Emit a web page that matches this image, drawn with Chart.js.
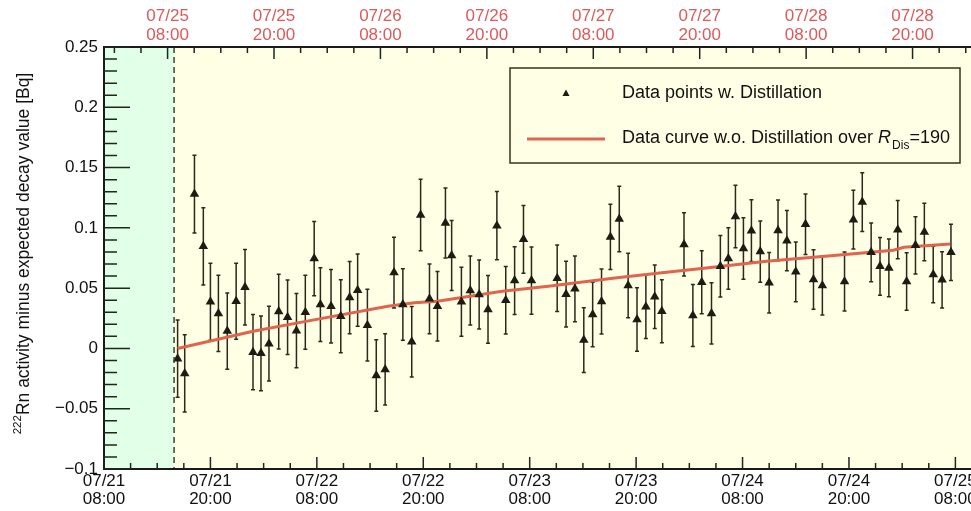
<!DOCTYPE html>
<html>
<head>
<meta charset="utf-8">
<script src="https://cdn.jsdelivr.net/npm/chart.js@4.4.0/dist/chart.umd.min.js"></script>
<style>
  html, body { margin: 0; padding: 0; background: #fff; overflow: hidden; }
  #wrap { width: 1000px; height: 511px; position: relative; }
</style>
</head>
<body>
<div id="wrap"><canvas id="myChart"></canvas></div>
<script>
'use strict';

// hours since 07/21 08:00
let pointHours = [8.3, 9.1, 10.2, 11.2, 12.0, 12.9, 13.9, 14.9, 15.9, 16.8,
  17.7, 18.6, 19.7, 20.7, 21.7, 22.7, 23.7, 24.4, 25.6, 26.7,
  27.7, 28.6, 29.7, 30.7, 31.7, 32.7, 33.7, 34.7, 35.7, 36.7,
  37.6, 38.5, 39.2, 40.3, 41.3, 42.3, 43.3, 44.3, 45.3, 46.3,
  47.3, 48.2, 51.1, 52.1, 53.1, 54.1, 55.1, 56.1, 57.1, 58.1,
  59.1, 60.1, 61.1, 62.1, 62.9, 65.4, 66.4, 67.4, 68.5, 69.5,
  70.4, 71.2, 72.1, 73.0, 74.0, 75.0, 76.0, 77.0, 78.0, 79.1,
  80.0, 81.0, 83.5, 84.5, 85.5, 86.5, 87.5, 88.5, 89.5, 90.5,
  91.5, 92.5, 93.5, 94.5, 95.5];
let pointValues = [-0.0085, -0.0207, 0.128, 0.0847, 0.0387, 0.029, 0.0144, 0.0392, 0.0507, -0.0031,
  -0.0041, 0.0039, 0.0306, 0.0259, 0.0147, 0.03, 0.0745, 0.0364, 0.035, 0.0267,
  0.0422, 0.0483, 0.0193, -0.0224, -0.0174, 0.0629, 0.0364, 0.0055, 0.1107, 0.0411,
  0.035, 0.1041, 0.077, 0.0387, 0.048, 0.0447, 0.0323, 0.1018, 0.04, 0.0563,
  0.0905, 0.0563, 0.0582, 0.045, 0.0494, 0.0069, 0.0281, 0.0389, 0.0925, 0.1074,
  0.0522, 0.024, 0.0345, 0.0428, 0.0309, 0.0863, 0.0273, 0.0549, 0.029, 0.0681,
  0.0745, 0.1095, 0.0828, 0.0977, 0.0803, 0.0544, 0.0979, 0.0894, 0.0635, 0.1029,
  0.0571, 0.0522, 0.0555, 0.1068, 0.1214, 0.0797, 0.0681, 0.0668, 0.0985, 0.0555,
  0.0855, 0.0966, 0.0613, 0.0569, 0.0797];
let pointErrors = [0.032, 0.032, 0.0323, 0.032, 0.032, 0.0316, 0.0316, 0.0315, 0.0313, 0.0312,
  0.0309, 0.031, 0.031, 0.0309, 0.0308, 0.0306, 0.0308, 0.0306, 0.0304, 0.0302,
  0.03, 0.03, 0.0298, 0.0296, 0.0296, 0.0294, 0.0296, 0.0292, 0.0296, 0.029,
  0.0288, 0.029, 0.029, 0.0286, 0.0286, 0.0286, 0.0281, 0.0283, 0.028, 0.0281,
  0.0281, 0.0279, 0.0275, 0.0273, 0.0273, 0.0269, 0.0267, 0.0269, 0.0271, 0.0272,
  0.0267, 0.0263, 0.0263, 0.0263, 0.0261, 0.0262, 0.0257, 0.0261, 0.0254, 0.0255,
  0.0255, 0.0259, 0.0255, 0.0257, 0.0254, 0.0251, 0.0252, 0.025, 0.0248, 0.0251,
  0.0247, 0.0244, 0.0244, 0.0244, 0.0244, 0.0243, 0.024, 0.024, 0.0242, 0.0238,
  0.0238, 0.0238, 0.0234, 0.0233, 0.0233];

// curve without distillation
let curveHours = [8.3, 16.8, 22.3, 32.0, 35.0, 37.6, 44.9, 50.1, 57.6, 62.9, 67.4, 74.7, 82.3, 89.0, 90.2, 95.4];
let curveValues = [0.0, 0.0143, 0.0218, 0.035, 0.0378, 0.0392, 0.0474, 0.0516, 0.0585, 0.0627, 0.0662, 0.0723, 0.077, 0.0814, 0.0839, 0.0867];

let distillStart = 7.9;
let xMin = 0;
let xMax = 99;
let topOffset = 88.83;

let bottomTickHours = [0, 12, 24, 36, 48, 60, 72, 84, 96];
let bottomTickLabels = [['07/21', '08:00'], ['07/21', '20:00'], ['07/22', '08:00'], ['07/22', '20:00'],
  ['07/23', '08:00'], ['07/23', '20:00'], ['07/24', '08:00'], ['07/24', '20:00'], ['07/25', '08:00']];
let topTickHours = [96, 108, 120, 132, 144, 156, 168, 180];
let topTickLabels = [['07/25', '08:00'], ['07/25', '20:00'], ['07/26', '08:00'], ['07/26', '20:00'],
  ['07/27', '08:00'], ['07/27', '20:00'], ['07/28', '08:00'], ['07/28', '20:00']];
let yTickValues = [-0.1, -0.05, 0, 0.05, 0.1, 0.15, 0.2, 0.25];
let yTickLabels = ['\u22120.1', '\u22120.05', '0', '0.05', '0.1', '0.15', '0.2', '0.25'];

let font = '"Liberation Sans", Arial, sans-serif';
let inkColor = '#1c1c10';

let decorPlugin = {
  id: 'decor',
  beforeDatasetsDraw(chart) {
    let c = chart.ctx;
    let a = chart.chartArea;
    let xs = chart.scales.x;
    let ys = chart.scales.y;
    c.save();
    c.fillStyle = '#ffffe6';
    c.fillRect(a.left, a.top, a.right - a.left, a.bottom - a.top);
    let xd = xs.getPixelForValue(distillStart);
    c.fillStyle = '#e2ffe7';
    c.fillRect(a.left, a.top, xd - a.left, a.bottom - a.top);
    // error bars
    c.strokeStyle = '#2a2a1a';
    c.lineWidth = 1.5;
    for (let i = 0; i < pointHours.length; i++) {
      let px = xs.getPixelForValue(pointHours[i]);
      let y1 = ys.getPixelForValue(pointValues[i] + pointErrors[i]);
      let y2 = ys.getPixelForValue(pointValues[i] - pointErrors[i]);
      c.beginPath();
      c.moveTo(px, y1);
      c.lineTo(px, y2);
      c.moveTo(px - 2, y1);
      c.lineTo(px + 2, y1);
      c.moveTo(px - 2, y2);
      c.lineTo(px + 2, y2);
      c.stroke();
    }
    c.restore();
  },
  afterDatasetsDraw(chart) {
    let c = chart.ctx;
    let a = chart.chartArea;
    let xs = chart.scales.x;
    let xt = chart.scales.x2;
    let ys = chart.scales.y;
    c.save();
    // dashed line at distillation start
    let xd = xs.getPixelForValue(distillStart);
    c.strokeStyle = '#2f4a2f';
    c.lineWidth = 1.5;
    c.setLineDash([6, 4]);
    c.beginPath();
    c.moveTo(xd, a.top);
    c.lineTo(xd, a.bottom);
    c.stroke();
    c.setLineDash([]);

    // frame
    c.strokeStyle = '#1a1a1a';
    c.lineWidth = 2;
    c.beginPath();
    c.moveTo(a.right, a.top);
    c.lineTo(a.left, a.top);
    c.lineTo(a.left, a.bottom);
    c.lineTo(a.right, a.bottom);
    c.stroke();

    // ticks
    c.lineWidth = 1.5;
    c.strokeStyle = '#1e261e';
    c.beginPath();
    for (let h = xMin; h <= xMax; h += 3) {
      let px = xs.getPixelForValue(h);
      let len = h % 12 === 0 ? 12 : 6;
      c.moveTo(px, a.bottom);
      c.lineTo(px, a.bottom - len);
    }
    for (let h = Math.ceil((xMin + topOffset) / 3) * 3; h <= xMax + topOffset; h += 3) {
      let px = xt.getPixelForValue(h);
      let len = h % 12 === 0 ? 12 : 6;
      c.moveTo(px, a.top);
      c.lineTo(px, a.top + len);
    }
    for (let k = -10; k <= 25; k++) {
      let py = ys.getPixelForValue(k / 100);
      let len = k % 5 === 0 ? 26 : 13;
      c.moveTo(a.left, py);
      c.lineTo(a.left + len, py);
    }
    c.stroke();

    // legend
    c.fillStyle = '#ffffe6';
    c.fillRect(510, 68, 450, 95);
    c.strokeStyle = '#33331f';
    c.lineWidth = 1.5;
    c.strokeRect(510, 68, 450, 95);
    c.fillStyle = inkColor;
    c.beginPath();
    c.moveTo(566, 89.5);
    c.lineTo(569.5, 96);
    c.lineTo(562.5, 96);
    c.closePath();
    c.fill();
    c.strokeStyle = '#e0644e';
    c.lineWidth = 3;
    c.beginPath();
    c.moveTo(527, 139);
    c.lineTo(605, 139);
    c.stroke();
    c.fillStyle = '#111';
    c.textBaseline = 'alphabetic';
    c.textAlign = 'left';
    c.font = '18px ' + font;
    c.fillText('Data points w. Distillation', 622, 98);
    let s1 = 'Data curve w.o. Distillation over ';
    c.fillText(s1, 622, 143);
    let cx = 622 + c.measureText(s1).width;
    c.font = 'italic 18px ' + font;
    c.fillText('R', cx, 143);
    cx += c.measureText('R').width + 1;
    c.font = '12px ' + font;
    c.fillText('Dis', cx, 149);
    cx += c.measureText('Dis').width;
    c.font = '18px ' + font;
    c.fillText('=190', cx, 143);

    // y axis title
    c.translate(29, 253.5);
    c.rotate(-Math.PI / 2);
    let sup = '222';
    let main = 'Rn activity minus expected decay value [Bq]';
    c.font = '11.5px ' + font;
    let wSup = c.measureText(sup).width;
    c.font = '17.5px ' + font;
    let wMain = c.measureText(main).width;
    let x0 = -(wSup + wMain) / 2;
    c.font = '11.5px ' + font;
    c.fillText(sup, x0, -8);
    c.font = '17.5px ' + font;
    c.fillText(main, x0 + wSup, 0);
    c.restore();
  }
};

let ctx = document.getElementById('myChart').getContext('2d');
let myChart = new Chart(ctx, {
  type: 'scatter',
  data: {
    datasets: [{
      type: 'line',
      label: 'Data curve w.o. Distillation',
      data: curveHours.map((h, i) => ({ x: h, y: curveValues[i] })),
      borderColor: '#e0644e',
      borderWidth: 3,
      pointRadius: 0,
      fill: false,
      tension: 0,
      order: 1
    }, {
      label: 'Data points w. Distillation',
      data: pointHours.map((h, i) => ({ x: h, y: pointValues[i] })),
      pointStyle: 'triangle',
      pointRadius: 5.5,
      backgroundColor: inkColor,
      borderColor: inkColor,
      borderWidth: 0,
      order: 0
    }]
  },
  options: {
    responsive: true,
    maintainAspectRatio: false,
    animation: false,
    layout: { padding: { left: 0, right: 18, top: 0, bottom: 0 } },
    plugins: { legend: { display: false }, tooltip: { enabled: false } },
    scales: {
      x: {
        type: 'linear',
        position: 'bottom',
        min: xMin,
        max: xMax,
        grid: { display: false, drawTicks: false },
        border: { display: false },
        afterBuildTicks: s => { s.ticks = bottomTickHours.map(v => ({ value: v })); },
        afterFit: s => { s.height = 42; },
        ticks: {
          autoSkip: false,
          maxRotation: 0,
          padding: 3,
          color: '#111',
          font: { family: font, size: 17, lineHeight: 1.07 },
          callback: v => bottomTickLabels[bottomTickHours.indexOf(v)]
        }
      },
      x2: {
        type: 'linear',
        position: 'top',
        min: xMin + topOffset,
        max: xMax + topOffset,
        grid: { display: false, drawTicks: false },
        border: { display: false },
        afterBuildTicks: s => { s.ticks = topTickHours.map(v => ({ value: v })); },
        afterFit: s => { s.height = 47; },
        ticks: {
          autoSkip: false,
          maxRotation: 0,
          padding: 3,
          color: '#dc5a5a',
          font: { family: font, size: 17, lineHeight: 1.07 },
          callback: v => topTickLabels[topTickHours.indexOf(v)]
        }
      },
      y: {
        min: -0.1,
        max: 0.25,
        grid: { display: false, drawTicks: false },
        border: { display: false },
        afterBuildTicks: s => { s.ticks = yTickValues.map(v => ({ value: v })); },
        afterFit: s => { s.width = 104; },
        ticks: {
          padding: 6,
          color: '#111',
          font: { family: font, size: 17 },
          callback: v => yTickLabels[yTickValues.indexOf(v)]
        }
      }
    }
  },
  plugins: [decorPlugin]
});
</script>
</body>
</html>
